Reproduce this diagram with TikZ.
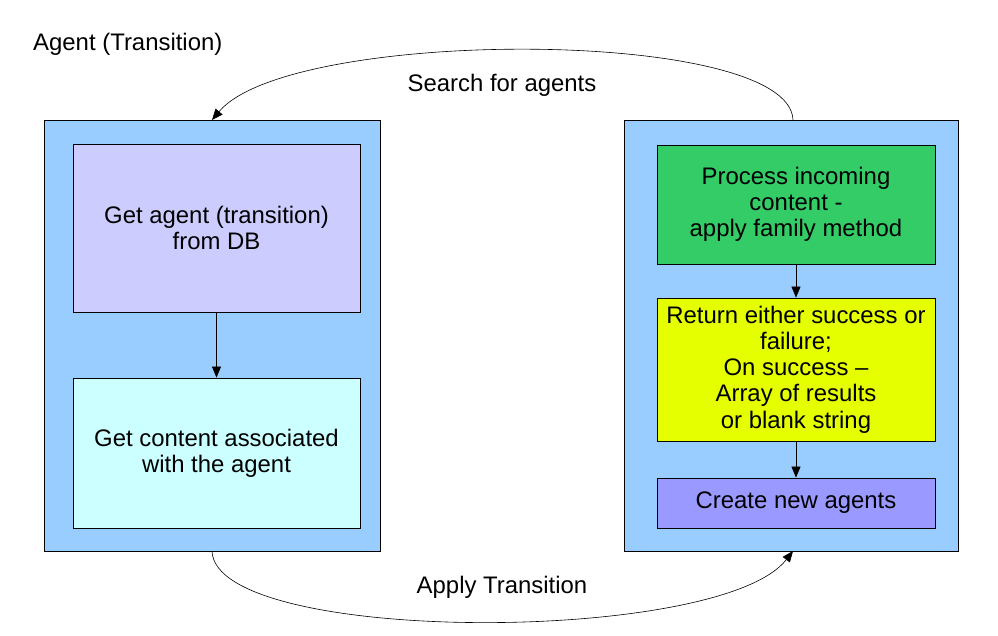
\documentclass[tikz,border=0pt]{standalone}
\usepackage{fontspec}
\setmainfont{Liberation Sans}
\usetikzlibrary{arrows.meta}
\definecolor{outerblue}{HTML}{99CCFF}
\definecolor{lav}{HTML}{CCCCFF}
\definecolor{lcyan}{HTML}{CCFFFF}
\definecolor{dgreen}{HTML}{33CC66}
\definecolor{lyellow}{HTML}{E6FF00}
\definecolor{lpurple}{HTML}{9999FF}
\tikzset{
  outerbox/.style={draw=black, fill=outerblue, line width=0.8bp},
  innerbox/.style={draw=black, line width=0.8bp, align=center, inner sep=0pt,
    font=\fontsize{24}{26.3}\selectfont},
  lbl/.style={font=\fontsize{24}{26.3}\selectfont, inner sep=0pt},
  conn/.style={line width=0.6bp, -{Triangle[length=11bp,width=9bp]}},
}
\begin{document}
\begin{tikzpicture}[x=1bp,y=-1bp]
\useasboundingbox (0,0) rectangle (998,636);
% outer boxes
\node[outerbox, minimum width=336bp, minimum height=431bp, inner sep=0pt] (L) at (212,335.5) {};
\node[outerbox, minimum width=334bp, minimum height=431bp, inner sep=0pt] (R) at (791,335.5) {};
% left inner
\node[innerbox, fill=lav, minimum width=287bp, minimum height=168bp] (a) at (216.5,228) {Get agent (transition)\\from DB};
\node[innerbox, fill=lcyan, minimum width=287bp, minimum height=150bp] (b) at (216.5,453) {Get content associated\\with the agent};
% right inner
\node[innerbox, fill=dgreen, minimum width=278bp, minimum height=119bp] (c) at (796,204.5) {Process incoming\\content -\\apply family method};
\node[innerbox, fill=lyellow, minimum width=278bp, minimum height=143bp] (d) at (796,369.5) {Return either success or\\failure;\\On success --\\Array of results\\ or blank string};
\node[innerbox, fill=lpurple, minimum width=278bp, minimum height=50bp] (e) at (796,503) {Create new agents};
% labels
\node[lbl, anchor=west] (t) at (33,44) {Agent (Transition)};
\node[lbl] (s) at (502,85) {Search for agents};
\node[lbl] (p) at (502,587) {Apply Transition};
% inner connectors
\draw[conn] (a.south) -- (b.north);
\draw[conn] (c.south) -- (d.north);
\draw[conn] (d.south) -- (e.north);
% arcs
\coordinate (rt) at (793,120);
\coordinate (lt) at (212,120);
\coordinate (lb) at (212,551);
\coordinate (rb) at (793,551);
\draw[conn] (rt) .. controls (790,27) and (290,27) .. (lt);
\draw[conn] (lb) .. controls (215,645) and (720,645) .. (rb);
\end{tikzpicture}
\end{document}
